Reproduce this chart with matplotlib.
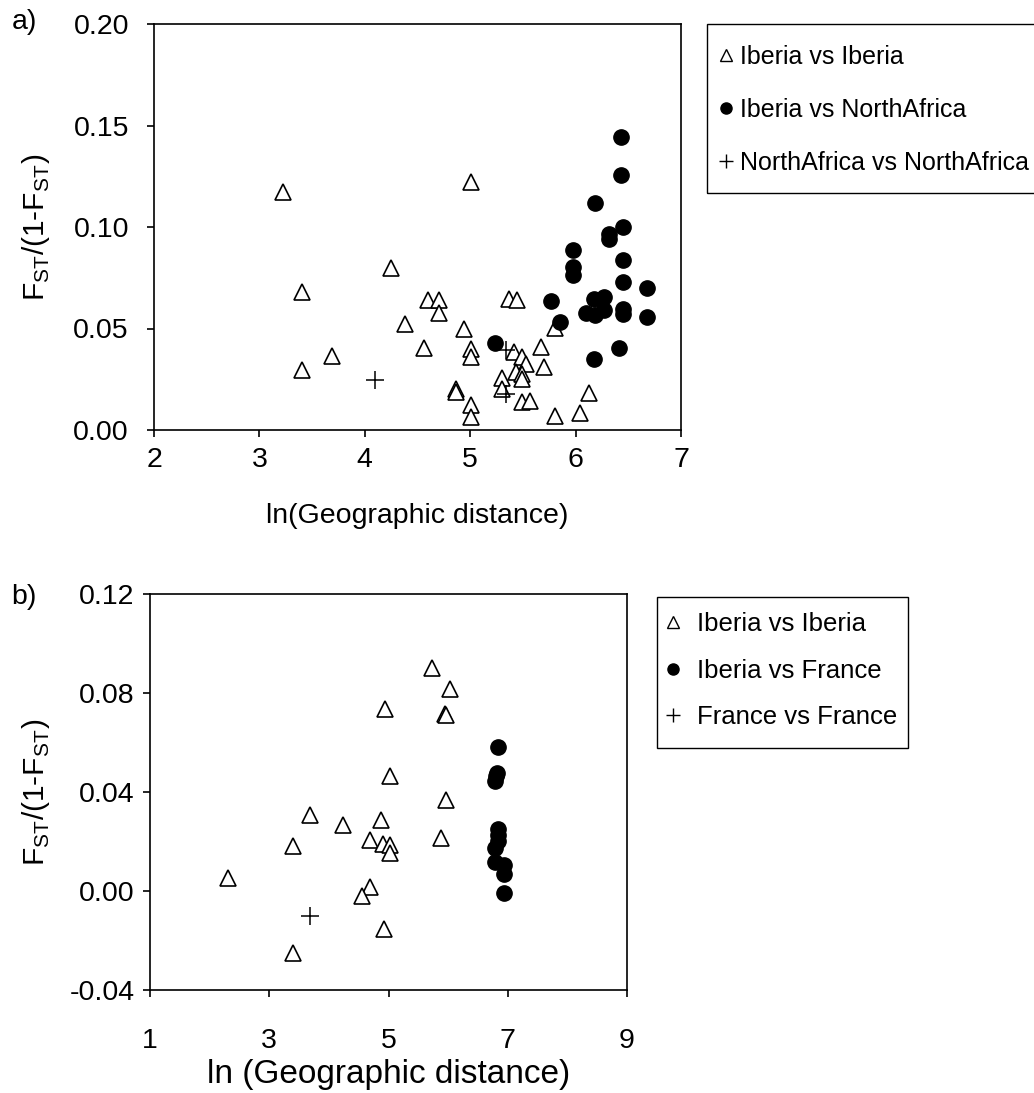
import matplotlib
matplotlib.use('Agg')
import matplotlib.pyplot as plt
from matplotlib.lines import Line2D
from matplotlib.patches import Rectangle

plt.rcParams['font.family'] = ['Liberation Sans', 'DejaVu Sans']
plt.rcParams['axes.unicode_minus'] = False
plt.rcParams['mathtext.fontset'] = 'custom'
plt.rcParams['mathtext.rm'] = 'Liberation Sans'

# ---- panel a data: ln(distance) vs Fst/(1-Fst)
a_ib_ib_x = [3.22, 5.01, 3.40, 3.40, 3.69, 4.25, 4.38, 4.60, 4.70, 4.70, 4.94, 4.56,
             5.01, 5.01, 5.37, 5.44, 5.80, 5.67, 5.42, 5.49, 5.53, 5.70, 5.43, 5.49,
             5.49, 5.30, 5.30, 4.87, 4.87, 5.01, 5.01, 5.49, 5.57, 5.80, 6.04, 6.13]
a_ib_ib_y = [0.117, 0.122, 0.068, 0.0296, 0.0365, 0.080, 0.052, 0.064, 0.064, 0.0578,
             0.0496, 0.0405, 0.0397, 0.0361, 0.0645, 0.064, 0.0501, 0.041, 0.0383,
             0.0361, 0.0325, 0.0312, 0.0287, 0.0276, 0.0250, 0.0255, 0.0200, 0.0200,
             0.0185, 0.0123, 0.0062, 0.0140, 0.0145, 0.0069, 0.0085, 0.0181]

a_ib_na_x = [6.43, 6.43, 6.18, 6.45, 6.32, 6.32, 5.98, 5.98, 5.98, 6.45, 6.45, 6.68,
             5.77, 6.17, 6.27, 6.10, 6.18, 6.27, 6.45, 6.45, 6.68, 5.85, 5.24, 6.41, 6.17]
a_ib_na_y = [0.1442, 0.1258, 0.112, 0.1002, 0.0966, 0.0939, 0.0887, 0.0805, 0.0764,
             0.0837, 0.0731, 0.0701, 0.0635, 0.0644, 0.0657, 0.0575, 0.0567, 0.0591,
             0.0594, 0.0571, 0.0555, 0.0530, 0.0430, 0.0405, 0.0351]

a_na_na_x = [4.10, 5.34, 5.34]
a_na_na_y = [0.0246, 0.0394, 0.0177]

# ---- panel b data
b_ib_ib_x = [2.31, 3.40, 3.69, 4.24, 3.40, 4.87, 4.69, 4.91, 5.03, 5.02, 4.69, 4.55,
             4.93, 5.02, 5.97, 5.88, 5.73, 6.03, 5.95, 5.97, 4.94]
b_ib_ib_y = [0.0054, 0.0182, 0.0306, 0.0265, -0.0252, 0.0287, 0.0206, 0.0191, 0.0185,
             0.0152, 0.0018, -0.0020, -0.0152, 0.0465, 0.0368, 0.0216, 0.0903, 0.0818,
             0.0717, 0.0710, 0.0737]

b_ib_fr_x = [6.84, 6.82, 6.80, 6.79, 6.84, 6.84, 6.83, 6.79, 6.79, 6.94, 6.94, 6.94]
b_ib_fr_y = [0.0583, 0.0476, 0.0465, 0.0443, 0.0252, 0.0225, 0.0202, 0.0174, 0.0119,
             0.0104, 0.0067, -0.0008]

b_fr_fr_x = [3.69]
b_fr_fr_y = [-0.0101]

a_labels = ['Iberia vs Iberia', 'Iberia vs NorthAfrica', 'NorthAfrica vs NorthAfrica']
b_labels = ['Iberia vs Iberia', 'Iberia vs France', 'France vs France']

ylab = r'F$_{\mathregular{ST}}$/(1-F$_{\mathregular{ST}}$)'
FS = 20.5

W, H = 1034, 1093
fig = plt.figure(figsize=(W / 100, H / 100), dpi=100)


def px_axes(l, r, t, b):
    return fig.add_axes([l / W, 1 - b / H, (r - l) / W, (b - t) / H])


def px_box(l, r, t, b):
    # legend frame drawn in figure pixels
    fig.add_artist(Rectangle((l / W, 1 - b / H), (r - l) / W, (b - t) / H,
                             transform=fig.transFigure, fill=False,
                             edgecolor='black', linewidth=1.0))


def draw(ax, xs, ys):
    ax.plot(xs[0], ys[0], linestyle='none', marker='^', ms=11, mfc='white',
            mec='black', mew=1.2)
    ax.plot(xs[1], ys[1], linestyle='none', marker='o', ms=11, mfc='black',
            mec='black')
    ax.plot(xs[2], ys[2], linestyle='none', marker='+', ms=13, mec='black', mew=1.1)
    for s in ax.spines.values():
        s.set_linewidth(1.2)
    ax.tick_params(direction='out', length=5, width=1.2, labelsize=FS,
                   top=False, right=False)


def handles():
    return [Line2D([], [], linestyle='none', marker='^', ms=8, mfc='white', mec='black', mew=1),
            Line2D([], [], linestyle='none', marker='o', ms=8, mfc='black', mec='black'),
            Line2D([], [], linestyle='none', marker='+', ms=10, mec='black', mew=1)]


# panel a
ax1 = px_axes(154, 681, 24, 430)
draw(ax1, [a_ib_ib_x, a_ib_na_x, a_na_na_x], [a_ib_ib_y, a_ib_na_y, a_na_na_y])
ax1.set_xlim(2, 7)
ax1.set_ylim(0, 0.20)
ax1.set_xticks([2, 3, 4, 5, 6, 7])
ax1.set_yticks([0.0, 0.05, 0.10, 0.15, 0.20])
ax1.set_yticklabels(['%.2f' % v for v in [0.0, 0.05, 0.10, 0.15, 0.20]])
ax1.tick_params(axis='y', pad=13)
ax1.tick_params(axis='x', pad=7)
ax1.set_xlabel('ln(Geographic distance)', fontsize=FS, labelpad=22)
ax1.text(-0.224, 0.5, ylab, transform=ax1.transAxes, rotation=90,
         ha='center', va='center', fontsize=21.5)
fig.text(24 / W, 1 - 22 / H, 'a)', fontsize=FS, ha='center', va='center')

fig.legend(handles(), a_labels, loc='upper left',
           bbox_to_anchor=(720 / W, 1 - 45 / H), borderaxespad=0, borderpad=0,
           fontsize=18, frameon=False, labelspacing=1.15,
           handlelength=0.5, handletextpad=0.3)
px_box(707, 1040, 24, 193)

# panel b
ax2 = px_axes(150, 627, 594, 990)
draw(ax2, [b_ib_ib_x, b_ib_fr_x, b_fr_fr_x], [b_ib_ib_y, b_ib_fr_y, b_fr_fr_y])
ax2.set_xlim(1, 9)
ax2.set_ylim(-0.04, 0.12)
ax2.set_xticks([1, 3, 5, 7, 9])
ax2.set_yticks([-0.04, 0.0, 0.04, 0.08, 0.12])
ax2.set_yticklabels(['%.2f' % v for v in [-0.04, 0.0, 0.04, 0.08, 0.12]])
ax2.tick_params(axis='y', pad=6)
ax2.tick_params(axis='x', pad=22)
ax2.set_xlabel('ln (Geographic distance)', fontsize=24, labelpad=4)
ax2.text(-0.239, 0.5, ylab, transform=ax2.transAxes, rotation=90,
         ha='center', va='center', fontsize=21.5)
fig.text(24 / W, 1 - 597 / H, 'b)', fontsize=FS, ha='center', va='center')

fig.legend(handles(), b_labels, loc='upper left',
           bbox_to_anchor=(667 / W, 1 - 612 / H), borderaxespad=0, borderpad=0,
           fontsize=18.5, frameon=False, labelspacing=0.88,
           handlelength=0.5, handletextpad=0.65)
px_box(657, 908, 597, 748)

fig.savefig('out.png', dpi=100)
